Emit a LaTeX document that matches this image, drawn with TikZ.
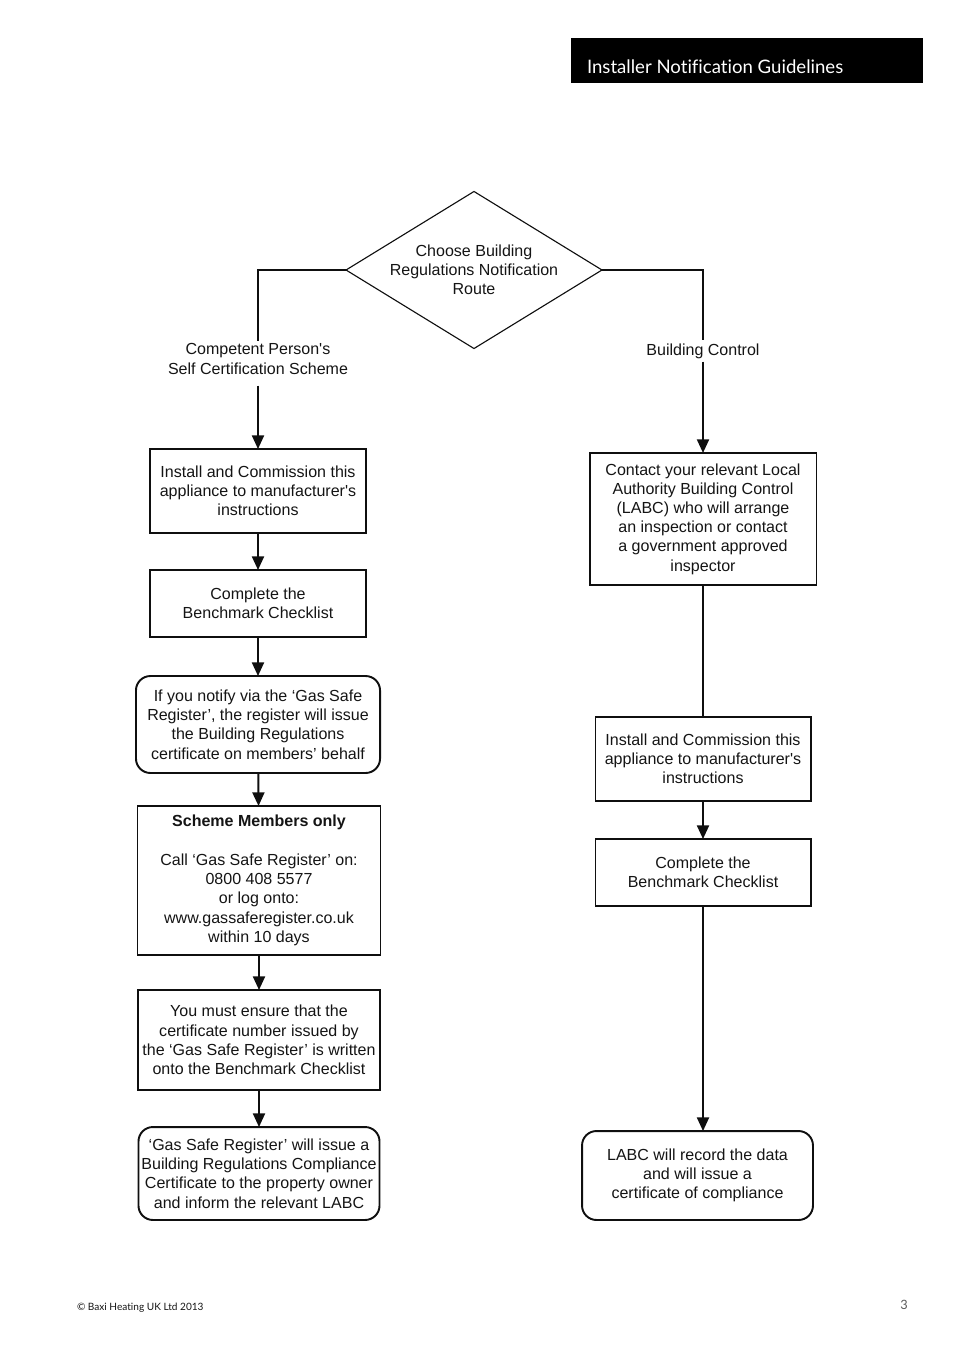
\documentclass[tikz,border=0pt]{standalone}
\usepackage{fontspec}
\setmainfont{Liberation Sans}
\newfontfamily\headfont[Ligatures=NoCommon]{Lato}
\usetikzlibrary{arrows.meta,shapes.geometric}

\definecolor{nftext}{RGB}{20,20,20}
\definecolor{nfline}{RGB}{15,15,15}
\definecolor{nfbanner}{RGB}{0,0,0}
\definecolor{nfgrey}{RGB}{90,90,90}

\begin{document}
\begin{tikzpicture}[
  x=0.624pt,
  y=-0.624pt,
  >={Triangle[length=8.5pt,width=7.5pt]},
  every node/.style={inner sep=0pt, outer sep=0pt},
  nfText/.style={font=\fontsize{10}{12}\selectfont, text=nftext, align=center},
  nfBox/.style={nfText, draw=nfline, line width=1.2pt, rectangle},
  nfRound/.style={nfBox, rounded corners=9pt},
  nfDecision/.style={nfText, draw=nfline, line width=0.7pt, diamond, aspect=1.63,
    minimum width=159.7pt, minimum height=98pt},
  nfArrow/.style={draw=nfline, line width=1.2pt, ->},
  nfLine/.style={draw=nfline, line width=1.2pt},
  nfThin/.style={draw=nfline, line width=0.7pt}
]

  \path[use as bounding box] (0,0) rectangle (954,1350);

  % banner
  \node[fill=nfbanner, minimum width=219.6pt, minimum height=28.1pt] (banner) at (747,60.5) {};
  \node[anchor=base west, font=\headfont\fontsize{11.6}{12}\selectfont, text=white] (title) at (587,74) {Installer Notification Guidelines};

  % decision
  \node[nfDecision] (route) at (474,270) {Choose Building\\Regulations Notification\\Route};

  % left route
  \node[nfText, inner sep=2pt] (cps) at (258,359) {Competent Person\textquotesingle s\\Self Certification Scheme};
  \node[nfBox, minimum width=134.8pt, minimum height=52.4pt] (linst) at (258,491)
    {Install and Commission this\\appliance to manufacturer\textquotesingle s\\instructions};
  \node[nfBox, minimum width=134.8pt, minimum height=41.8pt] (lbench) at (258,603.5)
    {Complete the\\Benchmark Checklist};
  \node[nfRound, minimum width=152.3pt, minimum height=60.5pt] (notify) at (258,724.5)
    {If you notify via the `Gas Safe\\Register', the register will issue\\the Building Regulations\\certificate on members' behalf};
  \node[nfBox, minimum width=151.6pt, minimum height=93pt] (members) at (259,880.5)
    {\textbf{Scheme Members only}\\[12pt]Call `Gas Safe Register' on:\\0800 408 5577\\or log onto:\\www.gassaferegister.co.uk\\within 10 days};
  \node[nfBox, minimum width=151pt, minimum height=62.4pt] (ensure) at (259,1040)
    {You must ensure that the\\certificate number issued by\\the `Gas Safe Register' is written\\onto the Benchmark Checklist};
  \node[nfRound, minimum width=150.4pt, minimum height=58pt] (gsr) at (259,1173.5)
    {`Gas Safe Register' will issue a\\Building Regulations Compliance\\Certificate to the property owner\\and inform the relevant LABC};

  % right route
  \node[nfText, inner sep=2pt] (bc) at (703,351) {Building Control};
  \node[nfBox, minimum width=141.6pt, minimum height=82.4pt] (labc) at (703,519)
    {Contact your relevant Local\\Authority Building Control\\(LABC) who will arrange\\an inspection or contact\\a government approved\\inspector};
  \node[nfBox, minimum width=134.2pt, minimum height=52.4pt] (rinst) at (703,759)
    {Install and Commission this\\appliance to manufacturer\textquotesingle s\\instructions};
  \node[nfBox, minimum width=134.2pt, minimum height=41.8pt] (rbench) at (703,872.5)
    {Complete the\\Benchmark Checklist};
  \node[nfRound, minimum width=144.1pt, minimum height=55.5pt] (record) at (697.5,1175.5)
    {LABC will record the data\\and will issue a\\certificate of compliance};

  % connectors
  \draw[nfThin] (route.west) -| (cps.north);
  \draw[nfLine] (route.east) -| (bc.north);
  \draw[nfArrow] ([yshift=-5pt]cps.south) -- (linst.north);
  \draw[nfArrow] (linst) -- (lbench);
  \draw[nfArrow] (lbench) -- (notify);
  \draw[nfArrow] (notify) -- (members);
  \draw[nfArrow] (members) -- (ensure);
  \draw[nfArrow] (ensure) -- (gsr);
  \draw[nfArrow] (bc.south) -- (labc.north);
  \draw[nfLine] (labc) -- (rinst);
  \draw[nfArrow] (rinst) -- (rbench);
  \draw[nfArrow] (rbench.south) -- (rbench.south |- record.north);

  % footer
  \node[anchor=base west, font=\headfont\fontsize{6.3}{7}\selectfont, text=nftext] (copy) at (77,1310) {\textcopyright{} Baxi Heating UK Ltd 2013};
  \node[anchor=base, font=\headfont\fontsize{8}{9}\selectfont, text=nfgrey] (page) at (904,1309) {3};

\end{tikzpicture}
\end{document}
